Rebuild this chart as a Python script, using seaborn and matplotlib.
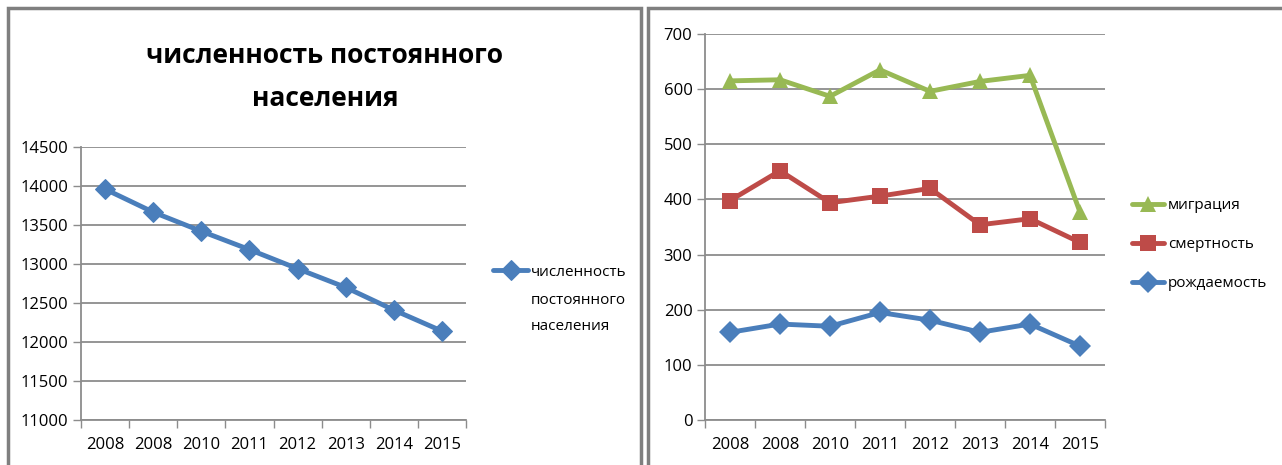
import numpy as np
import pandas as pd
import matplotlib
matplotlib.use("Agg")
import matplotlib.pyplot as plt
import seaborn as sns
from matplotlib.patches import Rectangle

# -------------------------------
# Data
# -------------------------------
years = ["2008", "2008", "2010", "2011", "2012", "2013", "2014", "2015"]
population = [13960, 13665, 13420, 13185, 12940, 12700, 12410, 12140]
migration = [615, 617, 587, 635, 596, 614, 625, 377]
deaths = [398, 452, 394, 406, 420, 354, 365, 322]
births = [159, 174, 170, 195, 181, 159, 174, 134]

blue = "#4A7EBB"
red = "#BE4B48"
green = "#98B954"

sns.set_theme(style="white")
plt.rcParams["font.family"] = ["Open Sans", "DejaVu Sans"]
plt.rcParams["text.color"] = "black"
plt.rcParams["xtick.color"] = "black"
plt.rcParams["ytick.color"] = "black"

W, H = 1282, 465
fig = plt.figure(figsize=(W / 100, H / 100), dpi=100)


def px_axes(x0, y0, x1, y1):
    # pixel box (top-left origin) -> figure coords
    return fig.add_axes([x0 / W, 1 - y1 / H, (x1 - x0) / W, (y1 - y0) / H])


# panel frames
for x0, x1 in [(8, 641), (648, 1290)]:
    fig.patches.append(Rectangle((x0 / W, -0.1), (x1 - x0) / W, 1.1 - 8 / H,
                                 transform=fig.transFigure, fill=False,
                                 edgecolor="#7f7f7f", linewidth=2.5))


def style_axes(ax, ymin, ymax, step):
    ax.set_xlim(-0.5, len(years) - 0.5)
    ax.set_ylim(ymin, ymax)
    ax.set_yticks(np.arange(ymin, ymax + 1, step))
    ax.yaxis.grid(True, color="#8c8c8c", linewidth=1.3)
    ax.set_axisbelow(True)
    ax.set_xticks(range(len(years)))
    ax.set_xticklabels(years)
    ax.set_xticks(np.arange(-0.5, len(years)), minor=True)
    ax.tick_params(axis="x", which="major", length=0, pad=12, labelsize=12)
    ax.tick_params(axis="x", which="minor", length=6, width=1, color="#8c8c8c", direction="out", bottom=True)
    ax.tick_params(axis="y", length=6, width=1, color="#8c8c8c", direction="out", left=True, labelsize=12, pad=3)
    for s in ["top", "right"]:
        ax.spines[s].set_visible(False)
    for s in ["left", "bottom"]:
        ax.spines[s].set_color("#8c8c8c")
        ax.spines[s].set_linewidth(1.3)
    ax.set_xlabel("")
    ax.set_ylabel("")


# -------------------------------
# Left chart: population
# -------------------------------
ax1 = px_axes(81, 147, 466, 420)
df1 = pd.DataFrame({"x": range(len(years)), "y": population})
sns.lineplot(data=df1, x="x", y="y", ax=ax1, color=blue, linewidth=3.5,
             marker="D", markersize=10, markeredgecolor=blue,
             label="численность")
style_axes(ax1, 11000, 14500, 500)
ax1.legend(loc="center left", bbox_to_anchor=(1.035, 0.542), frameon=False,
           fontsize=11, handlelength=2.3, handletextpad=0.15)
fig.text(531 / W, 1 - 300 / H, "постоянного", ha="left", va="center", fontsize=11)
fig.text(531 / W, 1 - 326 / H, "населения", ha="left", va="center", fontsize=11)
fig.text(325 / W, 1 - 77 / H, "численность постоянного\nнаселения",
         ha="center", va="center", fontsize=19, fontweight="bold", linespacing=1.75)

# -------------------------------
# Right chart: migration / deaths / births
# -------------------------------
ax2 = px_axes(705, 34, 1105, 420)
df2 = pd.DataFrame({
    "x": list(range(len(years))) * 3,
    "value": migration + deaths + births,
    "series": ["миграция"] * len(years) + ["смертность"] * len(years) + ["рождаемость"] * len(years),
})
sns.lineplot(data=df2, x="x", y="value", hue="series", style="series", ax=ax2,
             palette={"миграция": green, "смертность": red, "рождаемость": blue},
             markers={"миграция": "^", "смертность": "s", "рождаемость": "D"},
             dashes=False, linewidth=3.5, markersize=11, markeredgewidth=0)
style_axes(ax2, 0, 700, 100)
ax2.legend(loc="center left", bbox_to_anchor=(1.032, 0.455), frameon=False,
           fontsize=11, handlelength=2.1, handletextpad=0.3, labelspacing=1.57)

fig.savefig("out.png", dpi=100)
